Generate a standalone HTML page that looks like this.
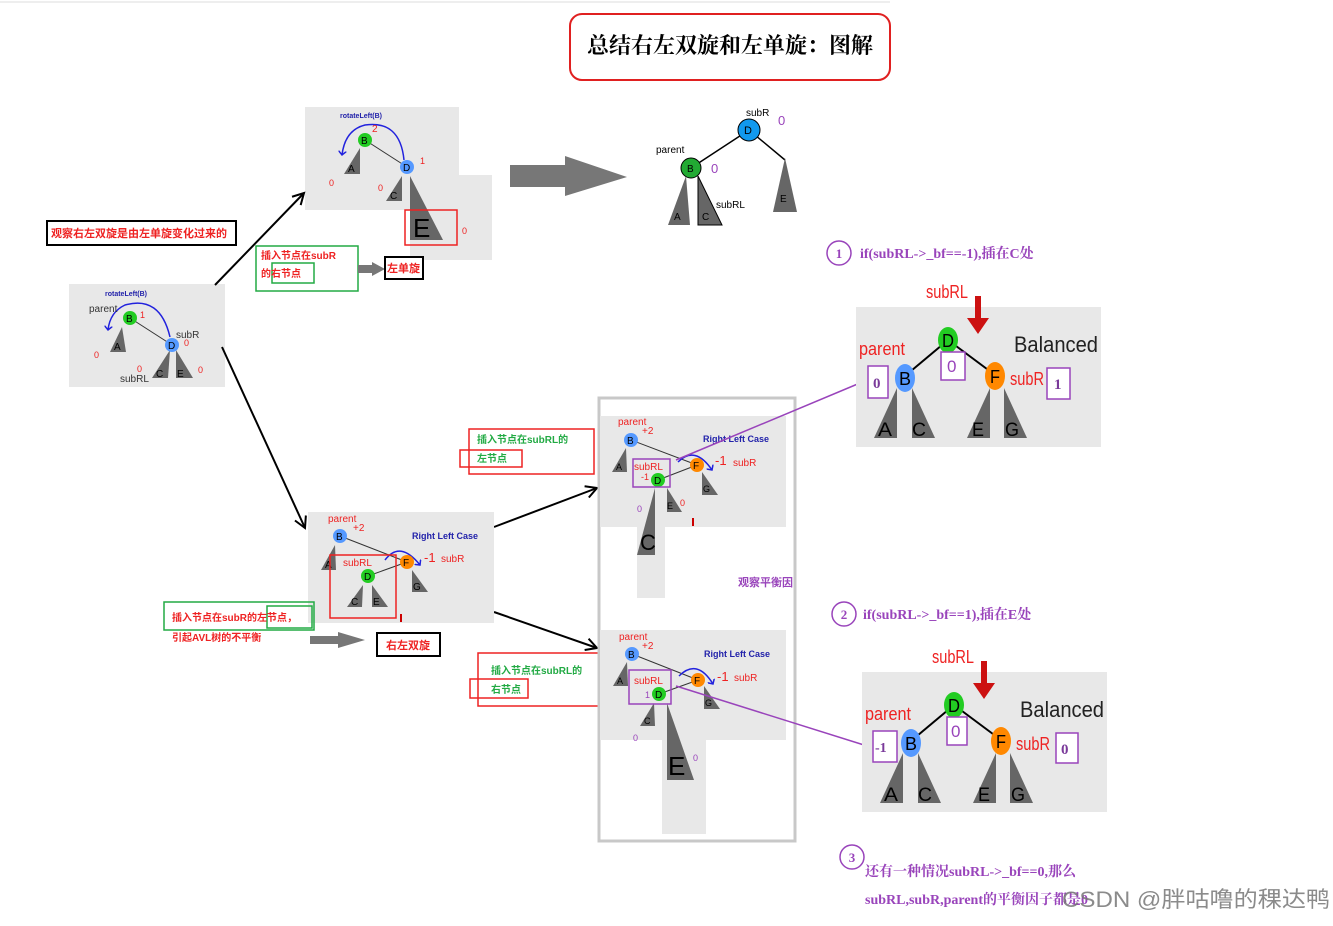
<!DOCTYPE html>
<html><head><meta charset="utf-8"><style>
body{margin:0;background:#fff}
text{font-family:"Liberation Sans","Noto Sans CJK SC",sans-serif}
.cn{font-family:"Liberation Serif","Noto Serif CJK SC",serif;font-weight:bold}
</style></head><body>
<svg width="1333" height="921" viewBox="0 0 1333 921" xmlns="http://www.w3.org/2000/svg">
<defs>
<marker id="ah" markerWidth="14" markerHeight="14" refX="12" refY="7" orient="auto" markerUnits="userSpaceOnUse"><path d="M1,1 L12,7 L1,13" fill="none" stroke="#000" stroke-width="2"/></marker>
<marker id="bh" markerWidth="8" markerHeight="8" refX="4" refY="4" orient="auto" markerUnits="userSpaceOnUse"><path d="M0,0 L4,4 L0,8" fill="none" stroke="#2222dd" stroke-width="1.5"/></marker>
</defs>
<line x1="0" y1="2" x2="890" y2="2" stroke="#ddd"/>
<!-- title -->
<rect x="570" y="14" width="320" height="66" rx="12" fill="#fff" stroke="#e02020" stroke-width="2"/>
<text x="730" y="53" text-anchor="middle" class="cn" font-size="22">总结右左双旋和左单旋：图解</text>

<!-- panel 0 -->
<rect x="69" y="284" width="156" height="103" fill="#e8e8e8"/>
<text x="105" y="296" font-size="7" fill="#2222aa" font-weight="bold">rotateLeft(B)</text>
<path d="M170,337 Q160,295 125,305 Q110,312 108,330" fill="none" stroke="#2222dd" stroke-width="1.5" marker-end="url(#bh)"/>
<text x="89" y="312" font-size="10" fill="#333">parent</text>
<line x1="130" y1="318" x2="172" y2="345" stroke="#333"/>
<polygon points="122,327 110,352 126,352" fill="#666"/><text x="114" y="350" font-size="10">A</text>
<polygon points="170,350 152,378 168,378" fill="#666"/><text x="156" y="377" font-size="10">C</text>
<polygon points="176,350 176,378 193,378" fill="#666"/><text x="177" y="377" font-size="10">E</text>
<circle cx="130" cy="318" r="7" fill="#22cc22"/><text x="126" y="322" font-size="10">B</text>
<circle cx="172" cy="345" r="7" fill="#5599ff"/><text x="168" y="349" font-size="10">D</text>
<text x="140" y="318" font-size="9" fill="#e22">1</text><text x="176" y="338" font-size="10" fill="#333">subR</text>
<text x="184" y="346" font-size="9" fill="#e22">0</text><text x="94" y="358" font-size="9" fill="#e22">0</text>
<text x="137" y="372" font-size="9" fill="#e22">0</text><text x="198" y="373" font-size="9" fill="#e22">0</text>
<text x="120" y="382" font-size="10" fill="#333">subRL</text>

<!-- panel 1 -->
<rect x="305" y="107" width="154" height="103" fill="#e8e8e8"/>
<rect x="410" y="175" width="82" height="85" fill="#e8e8e8"/>
<text x="340" y="118" font-size="7" fill="#2222aa" font-weight="bold">rotateLeft(B)</text>
<path d="M404,160 Q400,120 365,125 Q345,130 342,155" fill="none" stroke="#2222dd" stroke-width="1.5" marker-end="url(#bh)"/>
<line x1="365" y1="140" x2="407" y2="167" stroke="#333"/>
<polygon points="360,148 344,174 360,174" fill="#666"/><text x="348" y="172" font-size="10">A</text>
<polygon points="402,176 386,201 402,201" fill="#666"/><text x="390" y="199" font-size="10">C</text>
<polygon points="410,176 410,240 443,240" fill="#666"/><text x="413" y="237" font-size="26">E</text>
<rect x="405" y="210" width="52" height="35" fill="none" stroke="#e22" stroke-width="1.5"/>
<circle cx="365" cy="140" r="7" fill="#22cc22"/><text x="361" y="144" font-size="10">B</text>
<circle cx="407" cy="167" r="7" fill="#5599ff"/><text x="403" y="171" font-size="10">D</text>
<text x="372" y="132" font-size="10" fill="#e22">2</text><text x="420" y="164" font-size="9" fill="#e22">1</text>
<text x="329" y="186" font-size="9" fill="#e22">0</text><text x="378" y="191" font-size="9" fill="#e22">0</text><text x="462" y="234" font-size="9" fill="#e22">0</text>

<!-- black arrows -->
<line x1="215" y1="285" x2="304" y2="193" stroke="#000" stroke-width="2" marker-end="url(#ah)"/>
<line x1="222" y1="347" x2="305" y2="528" stroke="#000" stroke-width="2" marker-end="url(#ah)"/>
<line x1="494" y1="527" x2="597" y2="488" stroke="#000" stroke-width="2" marker-end="url(#ah)"/>
<line x1="494" y1="612" x2="597" y2="648" stroke="#000" stroke-width="2" marker-end="url(#ah)"/>

<!-- labels left -->
<rect x="47" y="221" width="189" height="24" fill="#fff" stroke="#000" stroke-width="2"/>
<text x="51" y="237" font-size="11" fill="#e22" font-weight="bold">观察右左双旋是由左单旋变化过来的</text>
<rect x="256" y="246" width="102" height="45" fill="none" stroke="#22aa44" stroke-width="1.5"/>
<rect x="272" y="263" width="42" height="20" fill="none" stroke="#22aa44" stroke-width="1.5"/>
<text x="261" y="259" font-size="10" fill="#e22" font-weight="bold">插入节点在subR</text>
<text x="261" y="277" font-size="10" fill="#e22" font-weight="bold">的右节点</text>
<polygon points="358,265 372,265 372,262 385,269 372,276 372,273 358,273" fill="#777"/>
<rect x="385" y="257" width="38" height="22" fill="#fff" stroke="#000" stroke-width="2"/>
<text x="387" y="272" font-size="11" fill="#e22" font-weight="bold">左单旋</text>

<!-- top-right result -->
<polygon points="510,165 565,165 565,156 627,177 565,196 565,187 510,187" fill="#777"/>
<line x1="749" y1="130" x2="691" y2="168" stroke="#000" stroke-width="1.5"/>
<line x1="749" y1="130" x2="785" y2="160" stroke="#000" stroke-width="1.5"/>
<polygon points="686,176 668,225 690,225" fill="#666"/><text x="674" y="220" font-size="10">A</text>
<polygon points="698,176 698,225 722,225" fill="#666" stroke="#000"/><text x="702" y="220" font-size="10">C</text>
<polygon points="785,158 773,212 797,212" fill="#666"/><text x="780" y="202" font-size="10">E</text>
<circle cx="749" cy="130" r="11" fill="#1199ee" stroke="#000"/><text x="744" y="134" font-size="11">D</text>
<circle cx="691" cy="168" r="10" fill="#22aa33" stroke="#000"/><text x="687" y="172" font-size="10">B</text>
<text x="746" y="116" font-size="10">subR</text><text x="778" y="125" font-size="13" fill="#9944bb">0</text>
<text x="656" y="153" font-size="10">parent</text><text x="711" y="173" font-size="13" fill="#9944bb">0</text>
<text x="716" y="208" font-size="10">subRL</text>

<!-- mid panel -->
<rect x="308" y="512" width="186" height="111" fill="#e8e8e8"/>
<line x1="340" y1="536" x2="407" y2="562" stroke="#333"/>
<line x1="368" y1="576" x2="407" y2="562" stroke="#333"/>
<polygon points="335,545 321,570 336,570" fill="#666"/><text x="325" y="568" font-size="10">A</text>
<polygon points="363,585 347,607 362,607" fill="#666"/><text x="351" y="605" font-size="10">C</text>
<polygon points="372,585 372,607 388,607" fill="#666"/><text x="373" y="605" font-size="10">E</text>
<polygon points="412,570 412,592 428,592" fill="#666"/><text x="413" y="590" font-size="10">G</text>
<path d="M385,560 Q400,540 420,565" fill="none" stroke="#2222dd" stroke-width="1.5" marker-end="url(#bh)"/>
<circle cx="340" cy="536" r="7" fill="#5599ff"/><text x="336" y="540" font-size="10">B</text>
<circle cx="407" cy="562" r="7" fill="#ff8800"/><text x="403" y="566" font-size="10">F</text>
<circle cx="368" cy="576" r="7" fill="#22cc22"/><text x="364" y="580" font-size="10">D</text>
<rect x="330" y="555" width="66" height="63" fill="none" stroke="#e22" stroke-width="1.5"/>
<text x="328" y="522" font-size="10" fill="#e22">parent</text><text x="353" y="531" font-size="10" fill="#e22">+2</text>
<text x="412" y="539" font-size="9" fill="#2222aa" font-weight="bold">Right Left Case</text>
<text x="424" y="562" font-size="13" fill="#e22">-1</text><text x="441" y="562" font-size="10" fill="#e22">subR</text>
<text x="343" y="566" font-size="10" fill="#e22">subRL</text>
<rect x="400" y="614" width="2" height="8" fill="#c00"/>
<rect x="164" y="602" width="150" height="28" fill="none" stroke="#22aa44" stroke-width="1.5"/>
<rect x="267" y="606" width="45" height="22" fill="none" stroke="#22aa44" stroke-width="1.5"/>
<text x="172" y="621" font-size="10" fill="#e22" font-weight="bold">插入节点在subR的左节点，</text>
<text x="172" y="641" font-size="10" fill="#e22" font-weight="bold">引起AVL树的不平衡</text>
<polygon points="310,636 338,636 338,632 365,640 338,648 338,644 310,644" fill="#777"/>
<rect x="377" y="633" width="63" height="23" fill="#fff" stroke="#000" stroke-width="2"/>
<text x="386" y="649" font-size="11" fill="#e22" font-weight="bold">右左双旋</text>

<!-- red label boxes -->
<rect x="469" y="429" width="125" height="45" fill="none" stroke="#e22" stroke-width="1.5"/>
<rect x="460" y="450" width="62" height="17" fill="none" stroke="#e22" stroke-width="1.5"/>
<text x="477" y="443" font-size="10" fill="#22aa44" font-weight="bold">插入节点在subRL的</text>
<text x="477" y="462" font-size="10" fill="#22aa44" font-weight="bold">左节点</text>
<rect x="478" y="653" width="122" height="53" fill="none" stroke="#e22" stroke-width="1.5"/>
<rect x="470" y="679" width="58" height="19" fill="none" stroke="#e22" stroke-width="1.5"/>
<text x="491" y="674" font-size="10" fill="#22aa44" font-weight="bold">插入节点在subRL的</text>
<text x="491" y="693" font-size="10" fill="#22aa44" font-weight="bold">右节点</text>

<!-- big frame -->
<rect x="599" y="398" width="196" height="443" fill="none" stroke="#c8c8c8" stroke-width="3"/>
<rect x="600" y="416" width="186" height="111" fill="#e8e8e8"/>
<rect x="637" y="527" width="28" height="71" fill="#e8e8e8"/>
<rect x="600" y="630" width="186" height="110" fill="#e8e8e8"/>
<rect x="662" y="740" width="44" height="94" fill="#e8e8e8"/>
<text x="738" y="586" font-size="11" fill="#9944bb" font-weight="bold">观察平衡因</text>

<!-- frame panel A -->
<line x1="631" y1="440" x2="697" y2="465" stroke="#333"/>
<line x1="658" y1="480" x2="697" y2="465" stroke="#333"/>
<polygon points="626,448 612,472 627,472" fill="#666"/><text x="616" y="470" font-size="9">A</text>
<polygon points="655,488 637,555 655,555" fill="#666"/><text x="640" y="550" font-size="22">C</text>
<polygon points="667,488 667,512 682,512" fill="#666"/><text x="667" y="509" font-size="9">E</text>
<polygon points="702,472 702,495 718,495" fill="#666"/><text x="703" y="492" font-size="9">G</text>
<path d="M678,462 Q695,445 712,470" fill="none" stroke="#2222dd" stroke-width="1.5" marker-end="url(#bh)"/>
<circle cx="631" cy="440" r="7" fill="#5599ff"/><text x="627" y="444" font-size="10">B</text>
<circle cx="697" cy="465" r="7" fill="#ff8800"/><text x="693" y="469" font-size="10">F</text>
<circle cx="658" cy="480" r="7" fill="#22cc22"/><text x="654" y="484" font-size="10">D</text>
<rect x="633" y="459" width="37" height="28" fill="none" stroke="#9944bb" stroke-width="1.5"/>
<text x="618" y="425" font-size="10" fill="#e22">parent</text><text x="642" y="434" font-size="10" fill="#e22">+2</text>
<text x="703" y="442" font-size="9" fill="#2222aa" font-weight="bold">Right Left Case</text>
<text x="715" y="465" font-size="13" fill="#e22">-1</text><text x="733" y="466" font-size="10" fill="#e22">subR</text>
<text x="634" y="470" font-size="10" fill="#e22">subRL</text><text x="641" y="480" font-size="9" fill="#e22">-1</text>
<text x="637" y="512" font-size="9" fill="#9944bb">0</text><text x="680" y="506" font-size="9" fill="#e22">0</text>
<rect x="692" y="518" width="2" height="8" fill="#c00"/>

<!-- frame panel B -->
<line x1="632" y1="654" x2="698" y2="680" stroke="#333"/>
<line x1="659" y1="694" x2="698" y2="680" stroke="#333"/>
<polygon points="627,662 613,686 628,686" fill="#666"/><text x="617" y="684" font-size="9">A</text>
<polygon points="654,703 640,726 655,726" fill="#666"/><text x="644" y="724" font-size="9">C</text>
<polygon points="667,703 667,780 694,780" fill="#666"/><text x="668" y="775" font-size="26">E</text>
<polygon points="704,686 704,709 720,709" fill="#666"/><text x="705" y="706" font-size="9">G</text>
<path d="M679,676 Q697,658 713,684" fill="none" stroke="#2222dd" stroke-width="1.5" marker-end="url(#bh)"/>
<circle cx="632" cy="654" r="7" fill="#5599ff"/><text x="628" y="658" font-size="10">B</text>
<circle cx="698" cy="680" r="7" fill="#ff8800"/><text x="694" y="684" font-size="10">F</text>
<circle cx="659" cy="694" r="7" fill="#22cc22"/><text x="655" y="698" font-size="10">D</text>
<rect x="629" y="670" width="42" height="34" fill="none" stroke="#9944bb" stroke-width="1.5"/>
<text x="619" y="640" font-size="10" fill="#e22">parent</text><text x="642" y="649" font-size="10" fill="#e22">+2</text>
<text x="704" y="657" font-size="9" fill="#2222aa" font-weight="bold">Right Left Case</text>
<text x="717" y="681" font-size="13" fill="#e22">-1</text><text x="734" y="681" font-size="10" fill="#e22">subR</text>
<text x="634" y="684" font-size="10" fill="#e22">subRL</text><text x="645" y="698" font-size="9" fill="#9944bb">1</text>
<text x="633" y="741" font-size="9" fill="#9944bb">0</text><text x="693" y="761" font-size="9" fill="#9944bb">0</text>

<!-- purple lines -->
<line x1="676" y1="460" x2="860" y2="383" stroke="#9944bb" stroke-width="1.5"/>
<line x1="676" y1="686" x2="864" y2="745" stroke="#9944bb" stroke-width="1.5"/>

<!-- right 1 -->
<circle cx="839" cy="253" r="12" fill="none" stroke="#9944bb" stroke-width="1.5"/>
<text x="839" y="258" text-anchor="middle" font-size="13" fill="#9944bb" class="cn">1</text>
<text x="860" y="258" font-size="14" fill="#9944bb" class="cn">if(subRL-&gt;_bf==-1),插在C处</text>

<g id="t1">
<rect x="856" y="307" width="245" height="140" fill="#e8e8e8"/>
<text x="926" y="298" font-size="18" fill="#e22" textLength="42" lengthAdjust="spacingAndGlyphs">subRL</text>
<polygon points="975,296 981,296 981,318 989,318 978,334 967,318 975,318" fill="#cc1111"/>
<line x1="948" y1="340" x2="905" y2="376" stroke="#000" stroke-width="2"/>
<line x1="948" y1="340" x2="995" y2="375" stroke="#000" stroke-width="2"/>
<polygon points="897,388 874,438 897,438" fill="#666"/><text x="878" y="436" font-size="19" textLength="14" lengthAdjust="spacingAndGlyphs">A</text>
<polygon points="912,388 912,438 935,438" fill="#666"/><text x="912" y="436" font-size="19" textLength="14" lengthAdjust="spacingAndGlyphs">C</text>
<polygon points="990,388 967,438 990,438" fill="#666"/><text x="972" y="436" font-size="19" textLength="12" lengthAdjust="spacingAndGlyphs">E</text>
<polygon points="1004,388 1004,438 1027,438" fill="#666"/><text x="1005" y="436" font-size="19" textLength="14" lengthAdjust="spacingAndGlyphs">G</text>
<ellipse cx="948" cy="340" rx="10" ry="13" fill="#22cc22"/><text x="942" y="347" font-size="18" textLength="12" lengthAdjust="spacingAndGlyphs">D</text>
<ellipse cx="905" cy="378" rx="10" ry="14" fill="#5599ff"/><text x="899" y="385" font-size="18" textLength="12" lengthAdjust="spacingAndGlyphs">B</text>
<ellipse cx="995" cy="376" rx="10" ry="14" fill="#ff8800"/><text x="990" y="383" font-size="18" textLength="10" lengthAdjust="spacingAndGlyphs">F</text>
<text x="1014" y="352" font-size="22" fill="#222" textLength="84" lengthAdjust="spacingAndGlyphs">Balanced</text>
<text x="859" y="355" font-size="18" fill="#e22" textLength="46" lengthAdjust="spacingAndGlyphs">parent</text>
<text x="1010" y="385" font-size="18" fill="#e22" textLength="34" lengthAdjust="spacingAndGlyphs">subR</text>
</g>
<rect x="868" y="366" width="20" height="32" fill="#fff" stroke="#9944bb" stroke-width="1.5"/><text x="873" y="388" font-size="15" fill="#7a3a9a" class="cn">0</text>
<rect x="941" y="352" width="24" height="28" fill="#fff" stroke="#9944bb" stroke-width="1.5"/><text x="947" y="372" font-size="17" fill="#9944bb">0</text>
<rect x="1047" y="368" width="23" height="31" fill="#fff" stroke="#9944bb" stroke-width="1.5"/><text x="1054" y="389" font-size="15" fill="#7a3a9a" class="cn">1</text>

<!-- right 2 -->
<circle cx="844" cy="614" r="12" fill="none" stroke="#9944bb" stroke-width="1.5"/>
<text x="844" y="619" text-anchor="middle" font-size="13" fill="#9944bb" class="cn">2</text>
<text x="863" y="619" font-size="14" fill="#9944bb" class="cn">if(subRL-&gt;_bf==1),插在E处</text>
<use href="#t1" transform="translate(6,365)"/>
<rect x="873" y="731" width="24" height="31" fill="#fff" stroke="#9944bb" stroke-width="1.5"/><text x="875" y="752" font-size="14" fill="#7a3a9a" class="cn">-1</text>
<rect x="947" y="717" width="20" height="28" fill="#fff" stroke="#9944bb" stroke-width="1.5"/><text x="951" y="737" font-size="17" fill="#9944bb">0</text>
<rect x="1056" y="733" width="22" height="30" fill="#fff" stroke="#9944bb" stroke-width="1.5"/><text x="1061" y="754" font-size="15" fill="#7a3a9a" class="cn">0</text>

<!-- right 3 -->
<circle cx="852" cy="857" r="12" fill="none" stroke="#9944bb" stroke-width="1.5"/>
<text x="852" y="862" text-anchor="middle" font-size="13" fill="#9944bb" class="cn">3</text>
<text x="865" y="876" font-size="14" fill="#9944bb" class="cn">还有一种情况subRL-&gt;_bf==0,那么</text>
<text x="865" y="904" font-size="14" fill="#9944bb" class="cn">subRL,subR,parent的平衡因子都是0</text>
<text x="1062" y="907" font-size="22" fill="#777" opacity="0.85" textLength="268" lengthAdjust="spacingAndGlyphs">CSDN @胖咕噜的稞达鸭</text>
</svg>
</body></html>
